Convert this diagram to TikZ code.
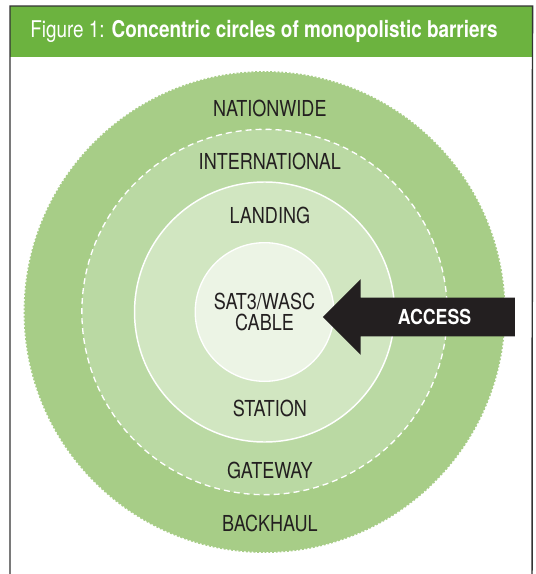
\documentclass[tikz,border=0pt]{standalone}
\usepackage{fontspec}
\setmainfont{TeX Gyre Heros}[FakeStretch=0.82]
\newfontfamily\arrowfont{TeX Gyre Heros}[FakeStretch=0.86]
\usepackage{tikz}
\usetikzlibrary{shapes.arrows, positioning}

\definecolor{headgreen}{HTML}{6CB33F}
\definecolor{ringone}{HTML}{A7CD87}
\definecolor{ringtwo}{HTML}{BAD9A3}
\definecolor{ringthree}{HTML}{D1E6C1}
\definecolor{core}{HTML}{ECF4E5}
\definecolor{ink}{HTML}{231F20}

\begin{document}
\begin{tikzpicture} [node distance = 2cm, on grid, font=\fontsize{16.5}{19}\selectfont, text=ink,
	ring/.style = {circle, inner sep = 0pt},
	ringtext/.style = {inner sep = 0pt, xshift = 4pt},
	frame/.style = {draw = black!80, line width = 1.1pt}]
		% Page size
		\useasboundingbox (0,0) rectangle (401.25pt,-430.5pt);

		% Header bar
		\node (header) [anchor = north west, fill = headgreen, minimum width = 391.5pt, minimum height = 38.25pt,
		inner sep = 0pt] at (7.5pt,-4.5pt) {};
		\node (title) [anchor = west, text = white, inner sep = 0pt, font = \fontsize{17.3}{20}\selectfont]
		at ([xshift = 15pt]header.west) {Figure 1: \textbf{Concentric circles of monopolistic barriers}};

		% Frame (open at the bottom)
		\coordinate (lowleft) at (7.5pt,-434pt);
		\coordinate (lowright) at (399pt,-434pt);
		\draw [frame] (lowleft) -- (header.north west) -- (header.north east) -- (lowright);

		% Circles : every ring is centred on the outer one
		\node (outer) [ring, fill = ringone, draw = ringone, line width = 1.4pt, dash pattern = on 1.4pt off 1.4pt,
		minimum size = 360pt] at (198.4pt,-234pt) {};
		\node (second) [ring, fill = ringtwo, draw = white, line width = 1pt, dash pattern = on 4.5pt off 3pt,
		minimum size = 274pt] at (outer) {};
		\node (third) [ring, fill = ringthree, draw = white, line width = 1.1pt, minimum size = 195pt] at (outer) {};
		\node (cable) [ring, fill = core, draw = white, line width = 1pt, minimum size = 104pt, align = center]
		at (outer) {SAT3/WASC\\[-3pt]CABLE};

		% Ring labels
		\node (nationwide) [ringtext, above = 152.5pt of outer] {NATIONWIDE};
		\node (international) [ringtext, above = 112.9pt of outer] {INTERNATIONAL};
		\node (landing) [ringtext, above = 72.75pt of outer] {LANDING};
		\node (station) [ringtext, below = 72pt of outer] {STATION};
		\node (gateway) [ringtext, below = 118.5pt of outer] {GATEWAY};
		\node (backhaul) [ringtext, below = 158.25pt of outer] {BACKHAUL};

		% Access arrow
		\node (access) [single arrow, shape border rotate = 180, fill = ink, text = white, anchor = tip,
		font = \arrowfont\bfseries\fontsize{15.5}{17}\selectfont, minimum height = 144pt,
		single arrow head extend = 13.9pt, inner xsep = 6pt, inner ysep = 9pt, text height = 10.5pt,
		text depth = 0pt] at ([xshift = -9pt, yshift = -3.75pt]cable.east) {\hspace*{9pt}ACCESS};
	\end{tikzpicture}
\end{document}
